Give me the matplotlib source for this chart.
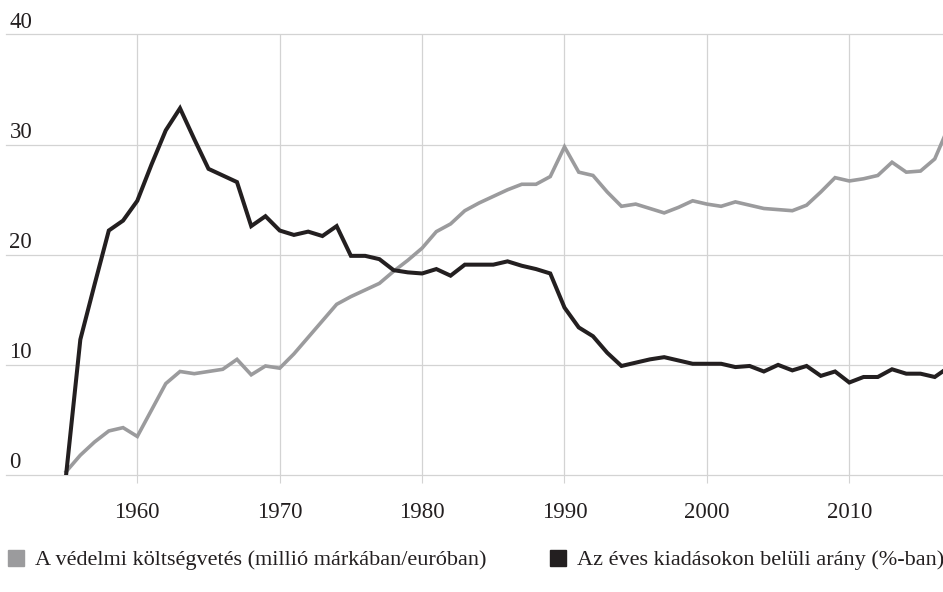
import matplotlib
matplotlib.use('Agg')
import matplotlib.pyplot as plt
from matplotlib.patches import Patch

plt.rcParams['font.family'] = ['Liberation Serif', 'DejaVu Serif']

years = list(range(1955, 2018))

# A védelmi költségvetés (millió márkában/euróban)
budget = [0.3, 1.8, 3.0, 4.0, 4.3, 3.5, 5.9, 8.3, 9.4, 9.2,
          9.4, 9.6, 10.5, 9.1, 9.9, 9.7, 11.0, 12.5, 14.0, 15.5,
          16.2, 16.8, 17.4, 18.5, 19.5, 20.6, 22.1, 22.8, 24.0, 24.7,
          25.3, 25.9, 26.4, 26.4, 27.1, 29.8, 27.5, 27.2, 25.7, 24.4,
          24.6, 24.2, 23.8, 24.3, 24.9, 24.6, 24.4, 24.8, 24.5, 24.2,
          24.1, 24.0, 24.5, 25.7, 27.0, 26.7, 26.9, 27.2, 28.4, 27.5,
          27.6, 28.7, 31.7]

# Az éves kiadásokon belüli arány (%-ban)
share = [0.0, 12.3, 17.3, 22.2, 23.1, 24.9, 28.2, 31.3, 33.3, 30.5,
         27.8, 27.2, 26.6, 22.6, 23.5, 22.2, 21.8, 22.1, 21.7, 22.6,
         19.9, 19.9, 19.6, 18.6, 18.4, 18.3, 18.7, 18.1, 19.1, 19.1,
         19.1, 19.4, 19.0, 18.7, 18.3, 15.2, 13.4, 12.6, 11.1, 9.9,
         10.2, 10.5, 10.7, 10.4, 10.1, 10.1, 10.1, 9.8, 9.9, 9.4,
         10.0, 9.5, 9.9, 9.0, 9.4, 8.4, 8.9, 8.9, 9.6, 9.2,
         9.2, 8.9, 9.8]

x_ticks = [1960, 1970, 1980, 1990, 2000, 2010]
y_ticks = [0, 10, 20, 30, 40]
labels = ['A védelmi költségvetés (millió márkában/euróban)',
          'Az éves kiadásokon belüli arány (%-ban)']

gray = '#9b9b9d'
black = '#231f20'
grid_c = '#d3d3d3'
text_c = '#231f20'

W, H = 943, 592
fig = plt.figure(figsize=(W / 100, H / 100), dpi=100)
ax = fig.add_axes([6 / W, (H - 475) / H, 1 - 6 / W, (475 - 34.5) / H])

ax.plot(years, budget, color=gray, lw=2.6, solid_joinstyle='miter', zorder=3)
ax.plot(years, share, color=black, lw=2.9, solid_joinstyle='miter', zorder=4)

ax.set_xlim(1950.78, 2016.58)
ax.set_ylim(0, 40)
ax.set_xticks(x_ticks)
ax.set_yticks(y_ticks)
ax.grid(True, color=grid_c, lw=0.9)
ax.set_axisbelow(True)
for gl in ax.get_ygridlines():
    gl.set_clip_on(False)
for s in ax.spines.values():
    s.set_visible(False)
ax.tick_params(axis='x', length=5.5, width=0.8, color=grid_c, pad=14,
               labelsize=16.5, labelcolor=text_c)
ax.tick_params(axis='y', length=0, labelleft=False)

for v in y_ticks:
    ax.annotate(str(v), xy=(0, v), xycoords=('axes fraction', 'data'),
                xytext=(2.5, 4.8), textcoords='offset points',
                ha='left', va='baseline', fontsize=16.5, color=text_c)

handles = [Patch(color=gray), Patch(color=black)]
for i, xpos in enumerate([8, 550]):
    fig.legend([handles[i]], [labels[i]], loc='center left',
               bbox_to_anchor=(xpos / W, 1 - 560 / H), frameon=False,
               borderpad=0, borderaxespad=0, handlelength=0.72,
               handleheight=0.72, handletextpad=0.5,
               prop={'size': 16}, labelcolor=text_c)

fig.savefig('out.png', dpi=100)
